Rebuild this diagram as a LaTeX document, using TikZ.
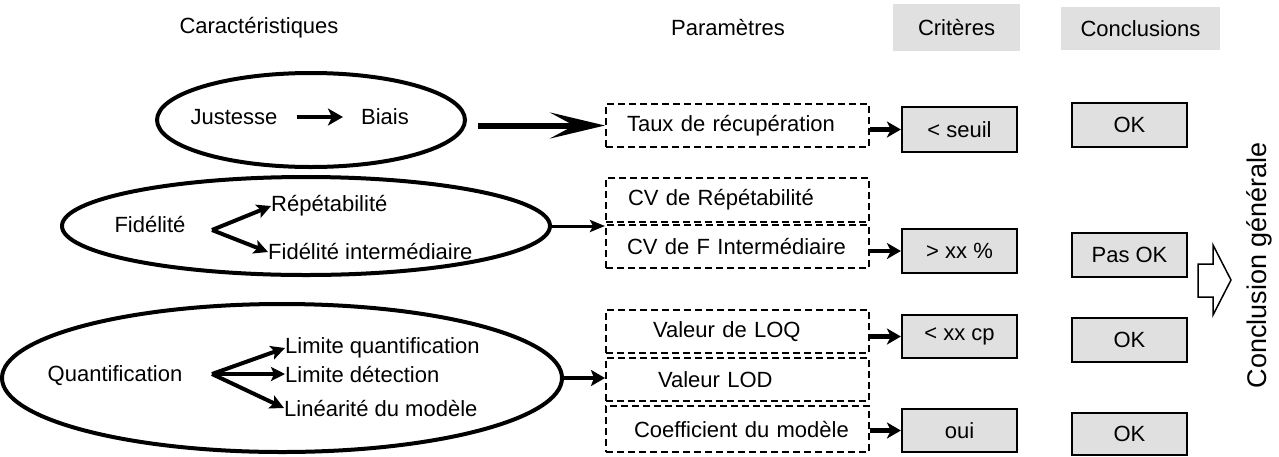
\documentclass[tikz,border=0pt]{standalone}
\usepackage{fontspec}
\setmainfont{Liberation Sans}
\usetikzlibrary{arrows.meta,shapes.geometric,calc}
\definecolor{boxgray}{HTML}{E0E0E0}
\begin{document}
\begin{tikzpicture}[x=1pt,y=-1pt,
  txt/.style={inner sep=0pt,font=\fontsize{22}{26}\selectfont},
  ell/.style={draw,ellipse,line width=4pt,inner sep=0pt},
  pbox/.style={draw,dash pattern=on 7pt off 4pt,line width=2pt,inner xsep=0pt,inner ysep=0pt,
     text width=263pt,align=left,font=\fontsize{22}{26}\selectfont},
  gbox/.style={draw,fill=boxgray,line width=2.2pt,inner sep=0pt,minimum width=115pt,font=\fontsize{22}{26}\selectfont},
  hbox/.style={fill=boxgray,inner sep=0pt,font=\fontsize{22}{26}\selectfont},
  sarr/.style={line width=4.5pt,-{Stealth[length=14pt,width=16pt,inset=4pt]}},
  forkarr/.style={line width=4pt,-{Stealth[length=14pt,width=14pt,inset=3pt]}},
]
\useasboundingbox (0,0) rectangle (1279,456);

% headers
\node[txt] (hcar) at (259,28) {Caractéristiques};
\node[txt] (hpar) at (728,28) {Paramètres};
\node[hbox,minimum width=127pt,minimum height=47pt] (hcri) at (956.5,27.5) {Critères};
\node[hbox,minimum width=159pt,minimum height=43pt] (hcon) at (1140.5,28.5) {Conclusions};

% ellipses
\node[ell,minimum width=308pt,minimum height=94pt] (e1) at (311,120) {};
\node[ell,minimum width=488pt,minimum height=98pt] (e2) at (306,226) {};
\node[ell,minimum width=560pt,minimum height=148pt] (e3) at (282,378) {};

% ellipse 1 content
\node[txt] (jus) at (234,117) {Justesse};
\node[txt] (bia) at (385,117) {Biais};
\draw[line width=4.5pt,-{Stealth[length=15pt,width=17pt,inset=4pt]},shorten <=19pt,shorten >=18pt] (jus.east) -- (bia.west);

% ellipse 2 content
\node[txt] (fid) at (150,225) {Fidélité};
\coordinate (f2) at (212,230);
\node[txt,anchor=west] (rep) at (271,206) {Répétabilité};
\node[txt,anchor=west] (fint) at (268,252) {Fidélité intermédiaire};
\draw[forkarr] (f2) -- (rep.west);
\draw[forkarr] (f2) -- (fint.west);

% ellipse 3 content
\node[txt] (qua) at (115,376) {Quantification};
\coordinate (f3) at (212,374);
\node[txt,anchor=west] (lq) at (285,348) {Limite quantification};
\node[txt,anchor=west] (ld) at (285,374) {Limite détection};
\node[txt,anchor=west] (lin) at (284,408) {Linéarité du modèle};
\draw[forkarr] (f3) -- (lq.west);
\draw[forkarr] (f3) -- (ld.west);
\draw[forkarr] (f3) -- (lin.west);

% parameter boxes
\node[pbox,minimum height=43pt] (taux) at (737.5,125.5) {\hspace*{21pt}Taux de récupération};
\node[pbox,minimum height=44pt] (cvr) at (737.5,200) {\hspace*{22pt}CV de Répétabilité};
\node[pbox,minimum height=43pt] (cvf) at (737.5,246.5) {\hspace*{21pt}CV de F Intermédiaire};
\node[pbox,minimum height=43pt] (loq) at (737.5,331.5) {\hspace*{47pt}Valeur de LOQ};
\node[pbox,minimum height=43pt] (lod) at (737.5,379.5) {\hspace*{52pt}Valeur LOD};
\node[pbox,minimum height=46pt] (coef) at (737.5,429) {\hspace*{28pt}Coefficient du modèle};

% criteria boxes
\node[gbox,minimum height=45pt] (c1) at (959.5,129.5) {< seuil};
\node[gbox,minimum height=44pt] (c2) at (959.5,251) {> xx \%};
\node[gbox,minimum height=43pt] (c3) at (959.5,336.5) {< xx cp};
\node[gbox,minimum height=43pt] (c4) at (959.5,430.5) {oui};

% conclusion boxes
\node[gbox,minimum height=44pt] (k1) at (1129.5,125) {OK};
\node[gbox,minimum height=44pt] (k2) at (1129.5,255) {Pas OK};
\node[gbox,minimum height=44pt] (k3) at (1129.5,340) {OK};
\node[gbox,minimum height=42pt] (k4) at (1129.5,434) {OK};

% connectors ellipses -> parameters
\draw[line width=6pt,-{Stealth[length=55pt,width=26pt,inset=24pt]}] ([xshift=11pt]e1.east |- taux.west) -- (taux.west);
\draw[line width=3pt,-{Stealth[length=15pt,width=12pt,inset=3pt]}] (e2.east) -- (e2.east -| cvr.west);
\draw[line width=4pt,-{Stealth[length=14pt,width=16pt,inset=3pt]}] (e3.east) -- (e3.east -| lod.west);

% parameters -> criteria
\draw[sarr] (taux.east |- c1.west) -- (c1.west);
\draw[sarr] (cvf.east |- c2.west) -- (c2.west);
\draw[sarr] (loq.east |- c3.west) -- (c3.west);
\draw[sarr] (coef.east |- c4.west) -- (c4.west);

% block arrow
\draw[line width=1.5pt,line join=miter] (1198,264) -- (1213,264) -- (1213,245) -- (1231,280) -- (1213,315) -- (1213,297) -- (1198,297) -- cycle;

\node[inner sep=0pt,rotate=90,font=\fontsize{27}{30}\selectfont] (cg) at (1259,265) {Conclusion générale};
\end{tikzpicture}
\end{document}
